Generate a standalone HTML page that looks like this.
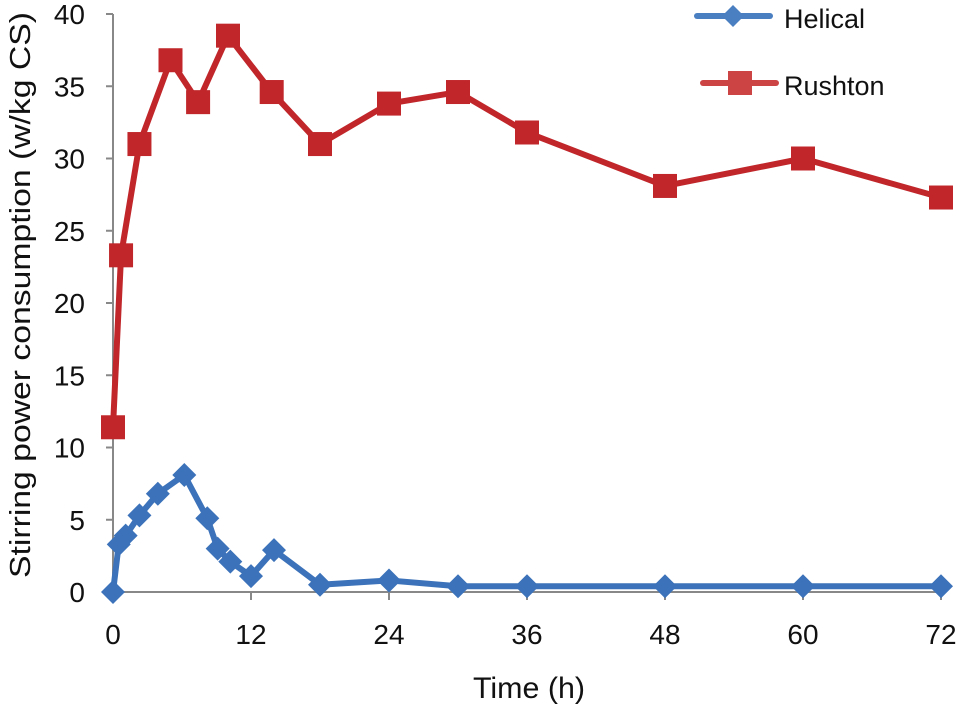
<!DOCTYPE html>
<html><head><meta charset="utf-8"><style>
html,body{margin:0;padding:0;background:#fff;}
svg{display:block;font-family:"Liberation Sans",sans-serif;}
</style></head><body>
<svg id="chart" width="971" height="706"></svg>
<script>
const yTicks=[0,5,10,15,20,25,30,35,40];
const xTicks=[0,12,24,36,48,60,72];
const helicalT=[0,0.5,1.1,2.3,3.9,6.2,8.2,9.1,10.2,12,14,18,24,30,36,48,60,72];
const helicalV=[0,3.3,3.9,5.3,6.8,8.1,5.1,3.0,2.1,1.1,2.9,0.5,0.8,0.4,0.4,0.4,0.4,0.4];
const rushtonT=[0,0.7,2.3,5,7.4,10,13.8,18,24,30,36,48,60,72];
const rushtonV=[11.4,23.3,31,36.8,33.9,38.5,34.6,31,33.8,34.6,31.8,28.1,30,27.3];
const NS="http://www.w3.org/2000/svg";
const svg=document.getElementById('chart');
const X=t=>113+t*(828/72);
const Y=v=>592-v*(578/40);
function mk(tag,attrs,parent){const e=document.createElementNS(NS,tag);for(const k in attrs)e.setAttribute(k,attrs[k]);(parent||svg).appendChild(e);return e;}
let a=mk('line',{x1:113,y1:14,x2:113,y2:592,stroke:'#888','stroke-width':2});


a=mk('line',{x1:113,y1:592,x2:941,y2:592,stroke:'#888','stroke-width':2});


yTicks.forEach(v=>{
 mk('line',{x1:106,y1:Y(v),x2:113,y2:Y(v),stroke:'#888','stroke-width':2});
 const t=mk('text',{x:85,y:Y(v)+10,'font-size':28,'text-anchor':'end',fill:'#111'});t.textContent=v;
 
 
});
xTicks.forEach(v=>{
 mk('line',{x1:X(v),y1:592,x2:X(v),y2:600,stroke:'#888','stroke-width':2});
 const t=mk('text',{x:X(v),y:644,'font-size':28,'text-anchor':'middle',fill:'#111'});t.textContent=v;
 
 
});
let tt=mk('text',{x:529,y:698,'font-size':30,'text-anchor':'middle',fill:'#111',textLength:112,lengthAdjust:'spacingAndGlyphs'});tt.textContent='Time (h)';


tt=mk('text',{x:0,y:0,'font-size':29,'text-anchor':'middle',fill:'#111',textLength:566,lengthAdjust:'spacingAndGlyphs',transform:'translate(30,295) rotate(-90)'});tt.textContent='Stirring power consumption (w/kg CS)';


function diamond(x,y,r){return `${x},${y-r} ${x+r},${y} ${x},${y+r} ${x-r},${y}`;}
function series(T,V,color,kind,name){
 const g=mk('g',{});
 
 
 mk('polyline',{points:T.map((t,i)=>X(t)+','+Y(V[i])).join(' '),fill:'none',stroke:color,'stroke-width':6,'stroke-linejoin':'round'},g);
 T.forEach((t,i)=>{
  let m;
  if(kind==='sq') m=mk('rect',{x:X(t)-12,y:Y(V[i])-12,width:24,height:24,fill:color},g);
  else m=mk('polygon',{points:diamond(X(t),Y(V[i]),12),fill:color},g);
  
  
 });
}
series(rushtonT,rushtonV,'#c0262a','sq','rushton');
series(helicalT,helicalV,'#3b72b9','di','helical');
let lg=mk('g',{});


mk('line',{x1:697,y1:16,x2:770,y2:16,stroke:'#4a7fc1','stroke-width':6,'stroke-linecap':'round'},lg);
mk('polygon',{points:diamond(733,16,11),fill:'#4a7fc1'},lg);
let lt=mk('text',{x:784,y:28,'font-size':27,fill:'#111'},lg);lt.textContent='Helical';
lg=mk('g',{});


mk('line',{x1:703,y1:83,x2:776,y2:83,stroke:'#cc4444','stroke-width':6,'stroke-linecap':'round'},lg);
mk('rect',{x:728,y:71,width:24,height:24,fill:'#cc4444'},lg);
lt=mk('text',{x:784,y:95,'font-size':27,fill:'#111'},lg);lt.textContent='Rushton';
</script>
</body></html>
